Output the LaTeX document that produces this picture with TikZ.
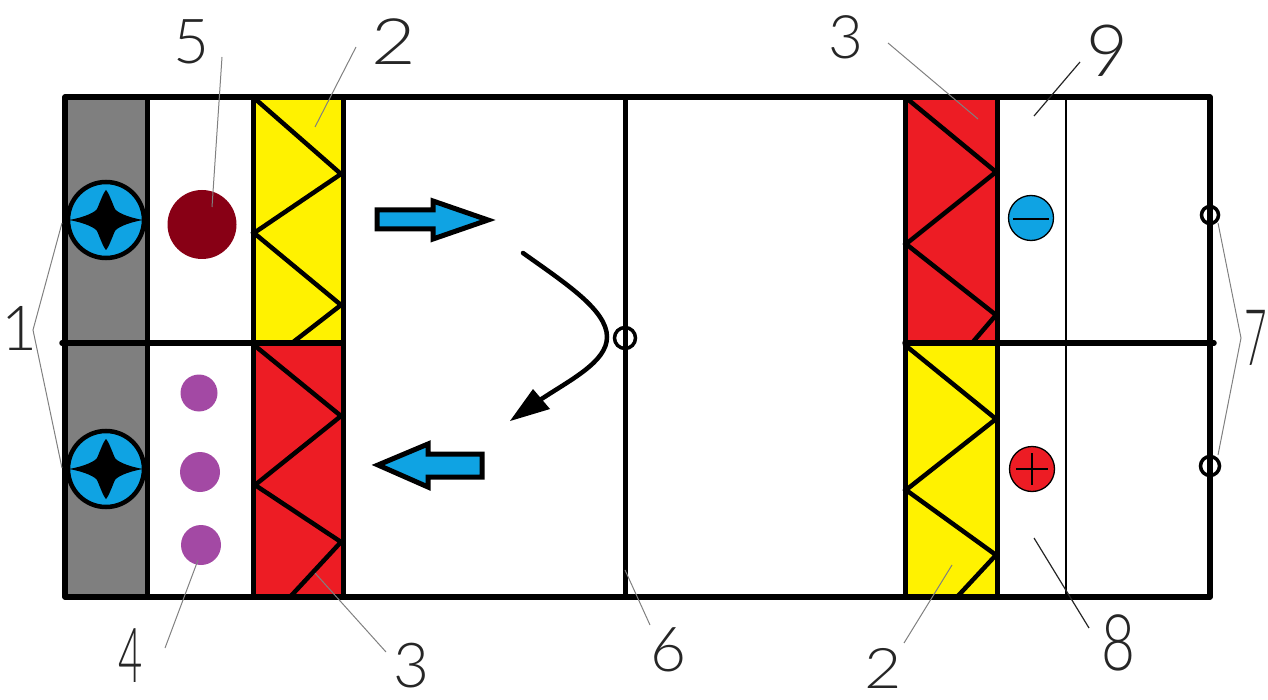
\documentclass[tikz,border=0pt]{standalone}
\usepackage{fontspec}
\newfontfamily\digitfont{Lato Light}
\definecolor{fanblue}{HTML}{0FA3E3}
\definecolor{wallred}{HTML}{ED1C24}
\definecolor{wallyellow}{HTML}{FFF200}
\definecolor{wallgrey}{HTML}{7F7F7F}
\definecolor{maroon}{HTML}{880015}
\definecolor{violet}{HTML}{A349A4}
\tikzset{
  heavy/.style={draw=black,line width=5.5pt,line cap=round,line join=round},
  zig/.style={draw=black,line width=4.5pt,line cap=round,line join=miter},
  leaderline/.style={draw=black!50,line width=1pt},
  darkleader/.style={draw=black!85,line width=1.2pt},
  dotnode/.style={circle,inner sep=0pt,minimum size=#1},
  fan/.style={circle,draw=black,line width=4.5pt,fill=fanblue,inner sep=0pt,minimum size=76pt},
  pole/.style={circle,draw=black,line width=1.3pt,inner sep=0pt,minimum size=45pt},
  sensor/.style={circle,draw=black,line width=3.5pt,inner sep=0pt,minimum size=#1},
  flow/.style={draw=black,line width=5pt,fill=fanblue,line join=miter},
  digit/.style={inner sep=0pt,text=black!85,font=\digitfont\fontsize{#1}{#1}\selectfont},
}
\usetikzlibrary{calc}
\newcommand{\fourstar}[1]{%
  \fill[black] ($(#1)+(-37,0)$) .. controls ($(#1)+(-20,-3)$) and ($(#1)+(-11,-8)$) .. ($(#1)+(-9,-11)$)
    .. controls ($(#1)+(-7,-15)$) and ($(#1)+(-3,-27)$) .. ($(#1)+(0,-30)$)
    .. controls ($(#1)+(3,-27)$) and ($(#1)+(7,-15)$) .. ($(#1)+(9,-11)$)
    .. controls ($(#1)+(11,-8)$) and ($(#1)+(20,-3)$) .. ($(#1)+(37,0)$)
    .. controls ($(#1)+(20,3)$) and ($(#1)+(11,8)$) .. ($(#1)+(9,11)$)
    .. controls ($(#1)+(7,15)$) and ($(#1)+(3,27)$) .. ($(#1)+(0,30)$)
    .. controls ($(#1)+(-3,27)$) and ($(#1)+(-7,15)$) .. ($(#1)+(-9,11)$)
    .. controls ($(#1)+(-11,8)$) and ($(#1)+(-20,3)$) .. cycle;}
\begin{document}
\begin{tikzpicture}[x=1pt,y=-1pt]
\clip (0,0) rectangle (1268,700);
% fills
\fill[wallgrey] (65,97) rectangle (147,597);
\fill[wallyellow] (253,97) rectangle (343,343);
\fill[wallred] (253,343) rectangle (343,597);
\fill[wallred] (905,97) rectangle (997,343);
\fill[wallyellow] (905,343) rectangle (997,597);
% zigzags
\draw[zig] (253,97) -- (341,174) -- (254,233) -- (341,305) -- (292,343);
\draw[zig] (254,345) -- (341,416) -- (255,485) -- (341,542) -- (290,597);
\draw[zig] (905,97) -- (996,172) -- (906,244) -- (996,315) -- (972,343);
\draw[zig] (905,345) -- (996,419) -- (906,490) -- (996,555) -- (957,597);
% frame
\draw[heavy] (65,97) rectangle (1210,597);
\draw[heavy] (62,343) -- (343,343);
\draw[heavy] (905,343) -- (1214,343);
\foreach \x in {147,253,343,625,905,997}{\draw[heavy,line width=5pt] (\x,97) -- (\x,597);}
\draw[black,line width=1.5pt] (1066,97) -- (1066,597);
% fans
\node[fan] (fanA) at (106,220) {};
\node[fan] (fanB) at (106,469) {};
\fourstar{fanA}
\fourstar{fanB}
% dots
\node[dotnode=69pt,fill=maroon] (heater) at (202,224.5) {};
\node[dotnode=37pt,fill=violet] (dotA) at (199,393) {};
\node[dotnode=40pt,fill=violet] (dotB) at (200,472) {};
\node[dotnode=40pt,fill=violet] (dotC) at (201,545) {};
% poles
\node[pole,fill=fanblue] (minus) at (1031,218) {};
\draw[black,line width=1.3pt] ($(minus)+(-18,1)$) -- ($(minus)+(18,1)$);
\node[pole,fill=wallred] (plus) at (1032,469) {};
\draw[black,line width=1.3pt] ($(plus)+(-16,0)$) -- ($(plus)+(16,0)$);
\draw[black,line width=1.3pt] ($(plus)+(0,-16)$) -- ($(plus)+(0,16)$);
% sensors
\node[sensor=21pt] (hingeC) at (625,338) {};
\node[sensor=17pt] (hingeA) at (1210,215) {};
\node[sensor=19pt] (hingeB) at (1210,466) {};
% flow arrows
\draw[flow] (377,210) -- (433,210) -- (433,201) -- (488,220) -- (433,239) -- (433,229) -- (377,229) -- cycle;
\draw[flow] (482,454) -- (428,454) -- (428,444) -- (378,465) -- (428,487) -- (428,477) -- (482,477) -- cycle;
% curved arrow
\coordinate (curveStart) at (523,253);
\coordinate (curveMid) at (607,337);
\coordinate (curveEnd) at (540,400);
\draw[black,line width=4.5pt,line cap=round] (curveStart) .. controls (565,283) and (607,310) .. (curveMid) .. controls (607,362) and (570,380) .. (curveEnd);
\fill[black] (510,421) -- (533,389) -- (550,409) -- cycle;
% digits
\node[digit=62] (n5) at (191,42) {5};
\node[digit=64,xscale=1.2] (n2a) at (394,42) {2};
\node[digit=60] (n3a) at (846,37) {3};
\node[digit=72] (n9) at (1107,51) {9};
\node[digit=62] (n1) at (19,328) {1};
\node[digit=78,xscale=.5] (n7) at (1256,338) {7};
\node[digit=76,xscale=.55] (n4) at (131,656) {4};
\node[digit=62] (n3b) at (411,666) {3};
\node[digit=62] (n6) at (668,650) {6};
\node[digit=56,xscale=1.15] (n2b) at (883,668) {2};
\node[digit=78,xscale=.75] (n8) at (1118,643) {8};
% leader ends
\coordinate (l5a) at (222,57);   \coordinate (l5b) at (212,207);
\coordinate (l2a) at (356,47);   \coordinate (l2b) at (315,127);
\coordinate (l1) at (33,330);    \coordinate (l1a) at (62,223);  \coordinate (l1b) at (62,468);
\coordinate (l4a) at (165,648);  \coordinate (l4b) at (198,560);
\coordinate (l3a) at (386,652);  \coordinate (l3b) at (315,573);
\coordinate (l6a) at (650,625);  \coordinate (l6b) at (625,570);
\coordinate (l2c) at (904,643);  \coordinate (l2d) at (952,565);
\coordinate (l8a) at (1089,628); \coordinate (l8b) at (1034,538);
\coordinate (l9a) at (1080,62);  \coordinate (l9b) at (1034,116);
\coordinate (l3c) at (888,43);   \coordinate (l3d) at (978,119);
\coordinate (l7) at (1241,338);  \coordinate (l7a) at (1218,223); \coordinate (l7b) at (1218,455);
\draw[leaderline] (l5a) -- (l5b);
\draw[leaderline] (l2a) -- (l2b);
\draw[leaderline] (l1a) -- (l1) -- (l1b);
\draw[leaderline] (l4a) -- (l4b);
\draw[leaderline] (l3a) -- (l3b);
\draw[leaderline] (l6a) -- (l6b);
\draw[leaderline] (l2c) -- (l2d);
\draw[darkleader] (l8a) -- (l8b);
\draw[darkleader] (l9a) -- (l9b);
\draw[leaderline] (l3c) -- (l3d);
\draw[leaderline] (l7a) -- (l7) -- (l7b);
\end{tikzpicture}
\end{document}
